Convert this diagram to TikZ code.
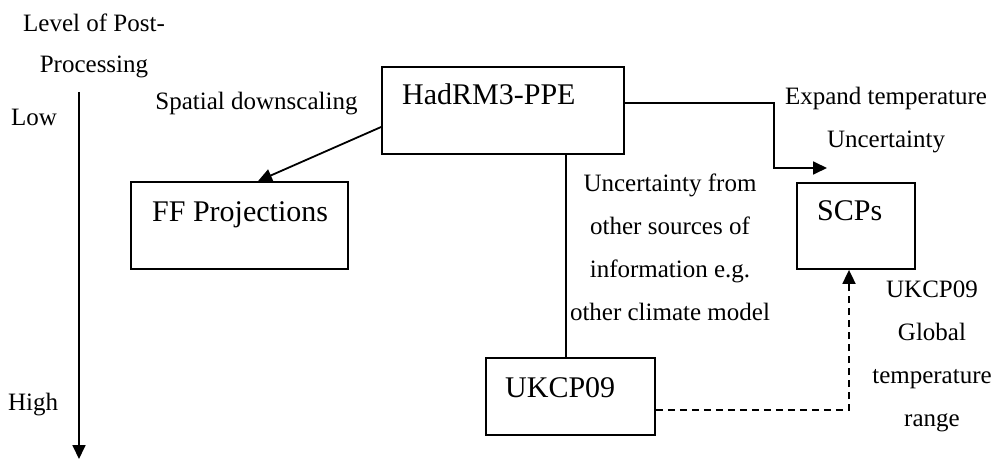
\documentclass[tikz,border=0pt]{standalone}
\usepackage{fontspec}
\setmainfont{Liberation Serif}
\usetikzlibrary{arrows.meta,calc}

\tikzset{
  boxnode/.style={draw, line width=1.8pt, inner sep=0pt},
  boxtext/.style={inner sep=0pt, anchor=base west, font=\fontsize{30}{36}\selectfont},
  % multi-line notes are placed by the baseline of their last line
  note/.style={inner sep=0pt, anchor=base, align=center, font=\fontsize{25}{43}\selectfont},
  conn/.style={line width=1.8pt},
  arr/.style={conn, -{Triangle[length=14pt,width=13pt]}},
}

\begin{document}
\begin{tikzpicture}[x=1pt, y=-1pt]
  \useasboundingbox (0,0) rectangle (997,460);

  % scale of post-processing on the left
  \node[note, font=\fontsize{25}{41}\selectfont] (lvl) at (94,73) {Level of Post-\\Processing};
  \node[inner sep=0pt, anchor=base west, font=\fontsize{25}{30}\selectfont] (low) at (11,125) {Low};
  \node[inner sep=0pt, anchor=base west, font=\fontsize{25}{30}\selectfont] (high) at (8,410) {High};
  \coordinate (axtop) at (79,92);
  \coordinate (axbot) at (79,459);
  \draw[arr] (axtop) -- (axbot);

  % boxes
  \node[boxnode, minimum width=242pt, minimum height=87pt] (had) at (503,110.5) {};
  \node[boxtext] (hadt) at (402,105) {HadRM3-PPE};

  \node[boxnode, minimum width=217pt, minimum height=87pt] (ff) at (239.5,225.5) {};
  \node[boxtext] (fft) at (152,221) {FF Projections};

  \node[boxnode, minimum width=118pt, minimum height=86pt] (scps) at (856,226) {};
  \node[boxtext] (scpst) at (817,220) {SCPs};

  \node[boxnode, minimum width=169pt, minimum height=77pt] (ukcp) at (570.5,396.5) {};
  \node[boxtext] (ukcpt) at (505,397) {UKCP09};

  % annotations
  \node[note] (spat) at (256.5,110) {Spatial downscaling};
  \node[note] (expand) at (886,147) {Expand temperature\\Uncertainty};
  \node[note] (other) at (670,320) {Uncertainty from\\other sources of\\information e.g.\\other climate model};
  \node[note] (glob) at (932,426) {UKCP09\\Global\\temperature\\range};

  % connectors
  \draw[arr] ([yshift=-16.5pt]had.west) -- ([xshift=18.5pt]ff.north);

  \coordinate (turn) at (774,168);
  \coordinate (tip) at (827,168);
  \draw[arr] ([yshift=7.5pt]had.east) -| (turn) -- (tip);

  \draw[conn] ([xshift=-4.5pt]ukcp.north |- had.south) -- ([xshift=-4.5pt]ukcp.north);

  \draw[arr, dash pattern=on 7pt off 5pt] ([yshift=-13.5pt]ukcp.east) -| ([xshift=-7pt]scps.south);
\end{tikzpicture}
\end{document}
